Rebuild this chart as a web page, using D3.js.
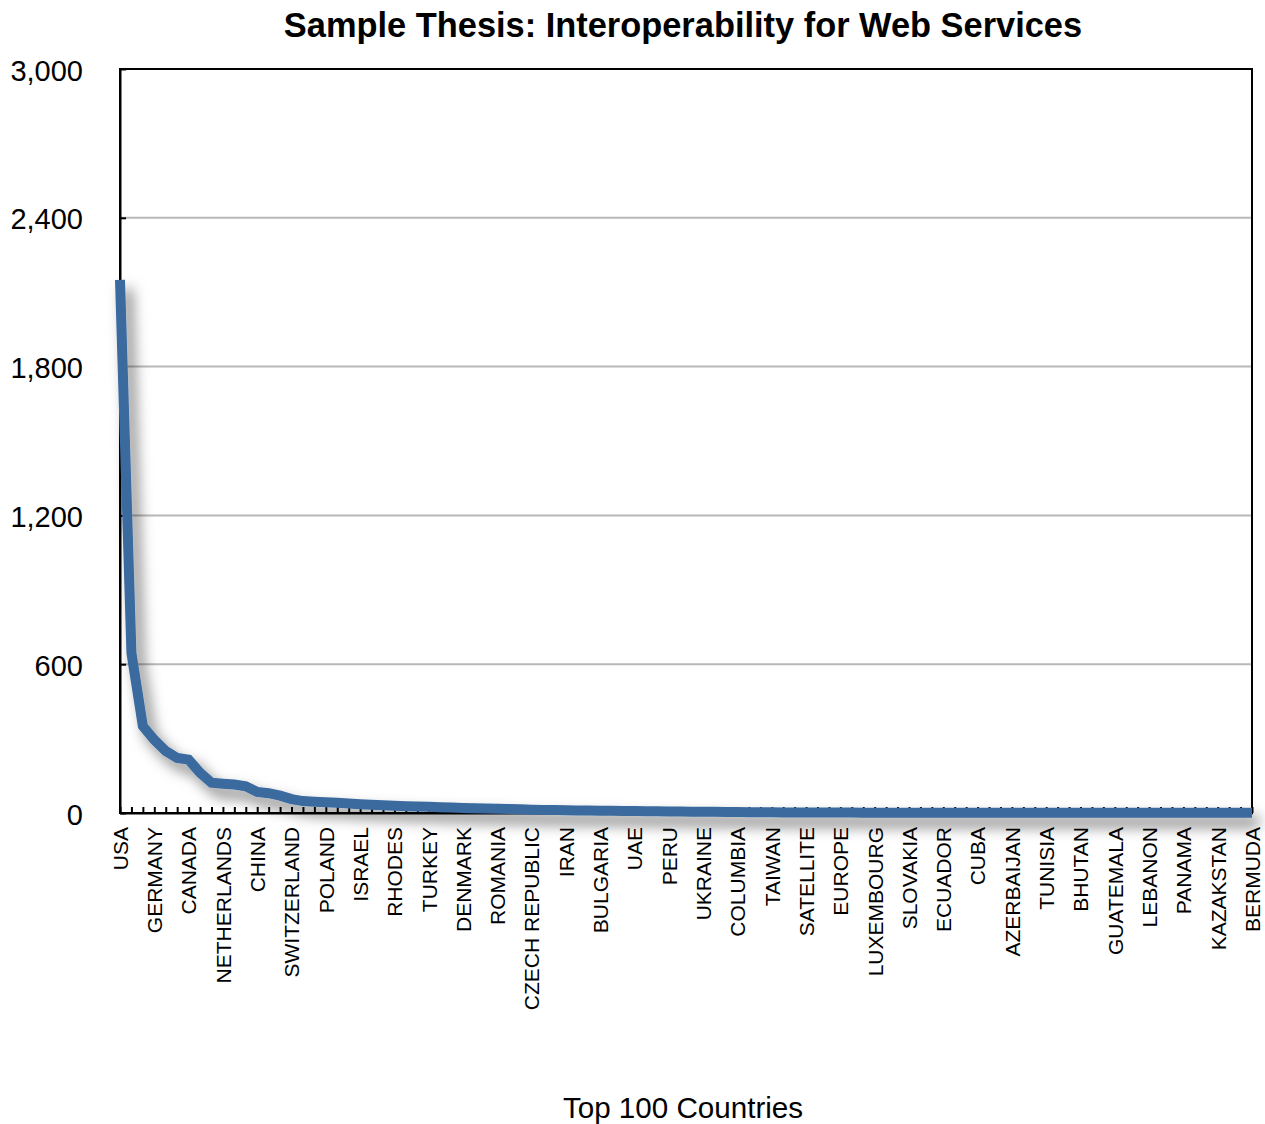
<!DOCTYPE html>
<html>
<head>
<meta charset="utf-8">
<script src="https://cdn.jsdelivr.net/npm/d3@7"></script>
<style>
  body { margin: 0; background: #fff; }
  svg { display: block; font-family: "Liberation Sans", Arial, Helvetica, sans-serif; }
</style>
</head>
<body>
<div id="chart"></div>
<script>
// hits per country, top 100, in rank order
const visits = [
  2150, 645, 350, 295, 250, 222, 215, 162, 122, 118,
  115, 108, 85, 80, 70, 56, 48, 45, 43, 41,
  38, 35, 33, 31, 29, 27, 26, 25, 23, 22,
  20, 19, 18, 17, 16, 15, 13, 12, 12, 11,
  10, 10, 9, 9, 8, 8, 7, 7, 6, 6,
  5, 5, 5, 4, 4, 3, 3, 3, 2, 2,
  2, 2, 2, 2, 2, 1, 1, 1, 1, 1,
  1, 1, 1, 1, 1, 1, 1, 1, 1, 1,
  1, 1, 1, 1, 1, 1, 1, 1, 1, 1,
  1, 1, 1, 1, 1, 1, 1, 1, 1, 1
];

// only every third country is labelled on the axis
const countryLabels = [
  "USA", "GERMANY", "CANADA", "NETHERLANDS", "CHINA", "SWITZERLAND",
  "POLAND", "ISRAEL", "RHODES", "TURKEY", "DENMARK", "ROMANIA",
  "CZECH REPUBLIC", "IRAN", "BULGARIA", "UAE", "PERU", "UKRAINE",
  "COLUMBIA", "TAIWAN", "SATELLITE", "EUROPE", "LUXEMBOURG", "SLOVAKIA",
  "ECUADOR", "CUBA", "AZERBAIJAN", "TUNISIA", "BHUTAN", "GUATEMALA",
  "LEBANON", "PANAMA", "KAZAKSTAN", "BERMUDA"
];
const labelStep = 3;

const yTicks = [0, 600, 1200, 1800, 2400, 3000];

const chartTitle = "Sample Thesis: Interoperability for Web Services";
const xTitle = "Top 100 Countries";

const width = 1265, height = 1124;
const margin = { top: 69, right: 13, bottom: 311, left: 120 };

const svg = d3.select("#chart").append("svg")
    .attr("width", width)
    .attr("height", height);

// drop shadow for the line
const defs = svg.append("defs");
const filter = defs.append("filter")
    .attr("id", "shadow")
    .attr("filterUnits", "userSpaceOnUse")
    .attr("x", 0).attr("y", 0)
    .attr("width", width).attr("height", height);
filter.append("feDropShadow")
    .attr("dx", 7)
    .attr("dy", 9)
    .attr("stdDeviation", 7)
    .attr("flood-color", "#000")
    .attr("flood-opacity", 0.5);

const x = d3.scalePoint()
    .domain(d3.range(visits.length))
    .range([margin.left, width - margin.right]);

const y = d3.scaleLinear()
    .domain([0, 3000])
    .range([height - margin.bottom, margin.top]);

// gridlines
svg.append("g")
    .selectAll("line")
    .data(yTicks.filter(d => d > 0 && d < 3000))
    .enter()
    .append("line")
    .attr("x1", margin.left)
    .attr("x2", width - margin.right)
    .attr("y1", d => y(d))
    .attr("y2", d => y(d))
    .attr("stroke", "#b8b8b8")
    .attr("stroke-width", 2);

// frame (top and right)
svg.append("rect")
    .attr("x", margin.left)
    .attr("y", margin.top)
    .attr("width", width - margin.right - margin.left)
    .attr("height", height - margin.bottom - margin.top)
    .attr("fill", "none")
    .attr("stroke", "#000")
    .attr("stroke-width", 2);

// y axis, ticks pointing inward
const yAxis = svg.append("g")
    .attr("transform", "translate(" + margin.left + ",0)")
    .call(d3.axisLeft(y).tickValues(yTicks).tickFormat(d3.format(",")).tickSizeInner(-6).tickSizeOuter(0));
yAxis.select(".domain").attr("stroke-width", 2);
yAxis.selectAll(".tick line").attr("stroke-width", 2);
yAxis.selectAll("text")
    .attr("x", -37)
    .attr("dy", "0.38em")
    .attr("font-size", 29)
    .attr("fill", "#000");

// x axis, one tick per country, label every third
const labelAt = {};
countryLabels.forEach((name, k) => { labelAt[k * labelStep] = name; });

const xAxis = svg.append("g")
    .attr("transform", "translate(0," + (height - margin.bottom) + ")")
    .call(d3.axisBottom(x).tickFormat(i => labelAt[i] || "").tickSizeInner(-6).tickSizeOuter(0));
xAxis.select(".domain").attr("stroke-width", 2);
xAxis.selectAll(".tick line").attr("stroke-width", 2);
xAxis.selectAll("text")
    .attr("transform", "rotate(-90)")
    .attr("x", -14)
    .attr("y", 0)
    .attr("dy", "0.35em")
    .attr("text-anchor", "end")
    .attr("font-size", 21)
    .attr("fill", "#000");

// the line
const line = d3.line()
    .x((d, i) => x(i))
    .y(d => y(d));

svg.append("path")
    .datum(visits)
    .attr("d", line)
    .attr("fill", "none")
    .attr("stroke", "#3b6a9e")
    .attr("stroke-width", 10)
    .attr("stroke-linejoin", "miter")
    .attr("filter", "url(#shadow)");

// titles
const midX = (margin.left + width - margin.right) / 2;
svg.append("text")
    .attr("x", midX - 3)
    .attr("y", 37)
    .attr("text-anchor", "middle")
    .attr("font-size", 34.4)
    .attr("font-weight", "bold")
    .text(chartTitle);

svg.append("text")
    .attr("x", midX - 3)
    .attr("y", 1118)
    .attr("text-anchor", "middle")
    .attr("font-size", 29.6)
    .text(xTitle);
</script>
</body>
</html>
